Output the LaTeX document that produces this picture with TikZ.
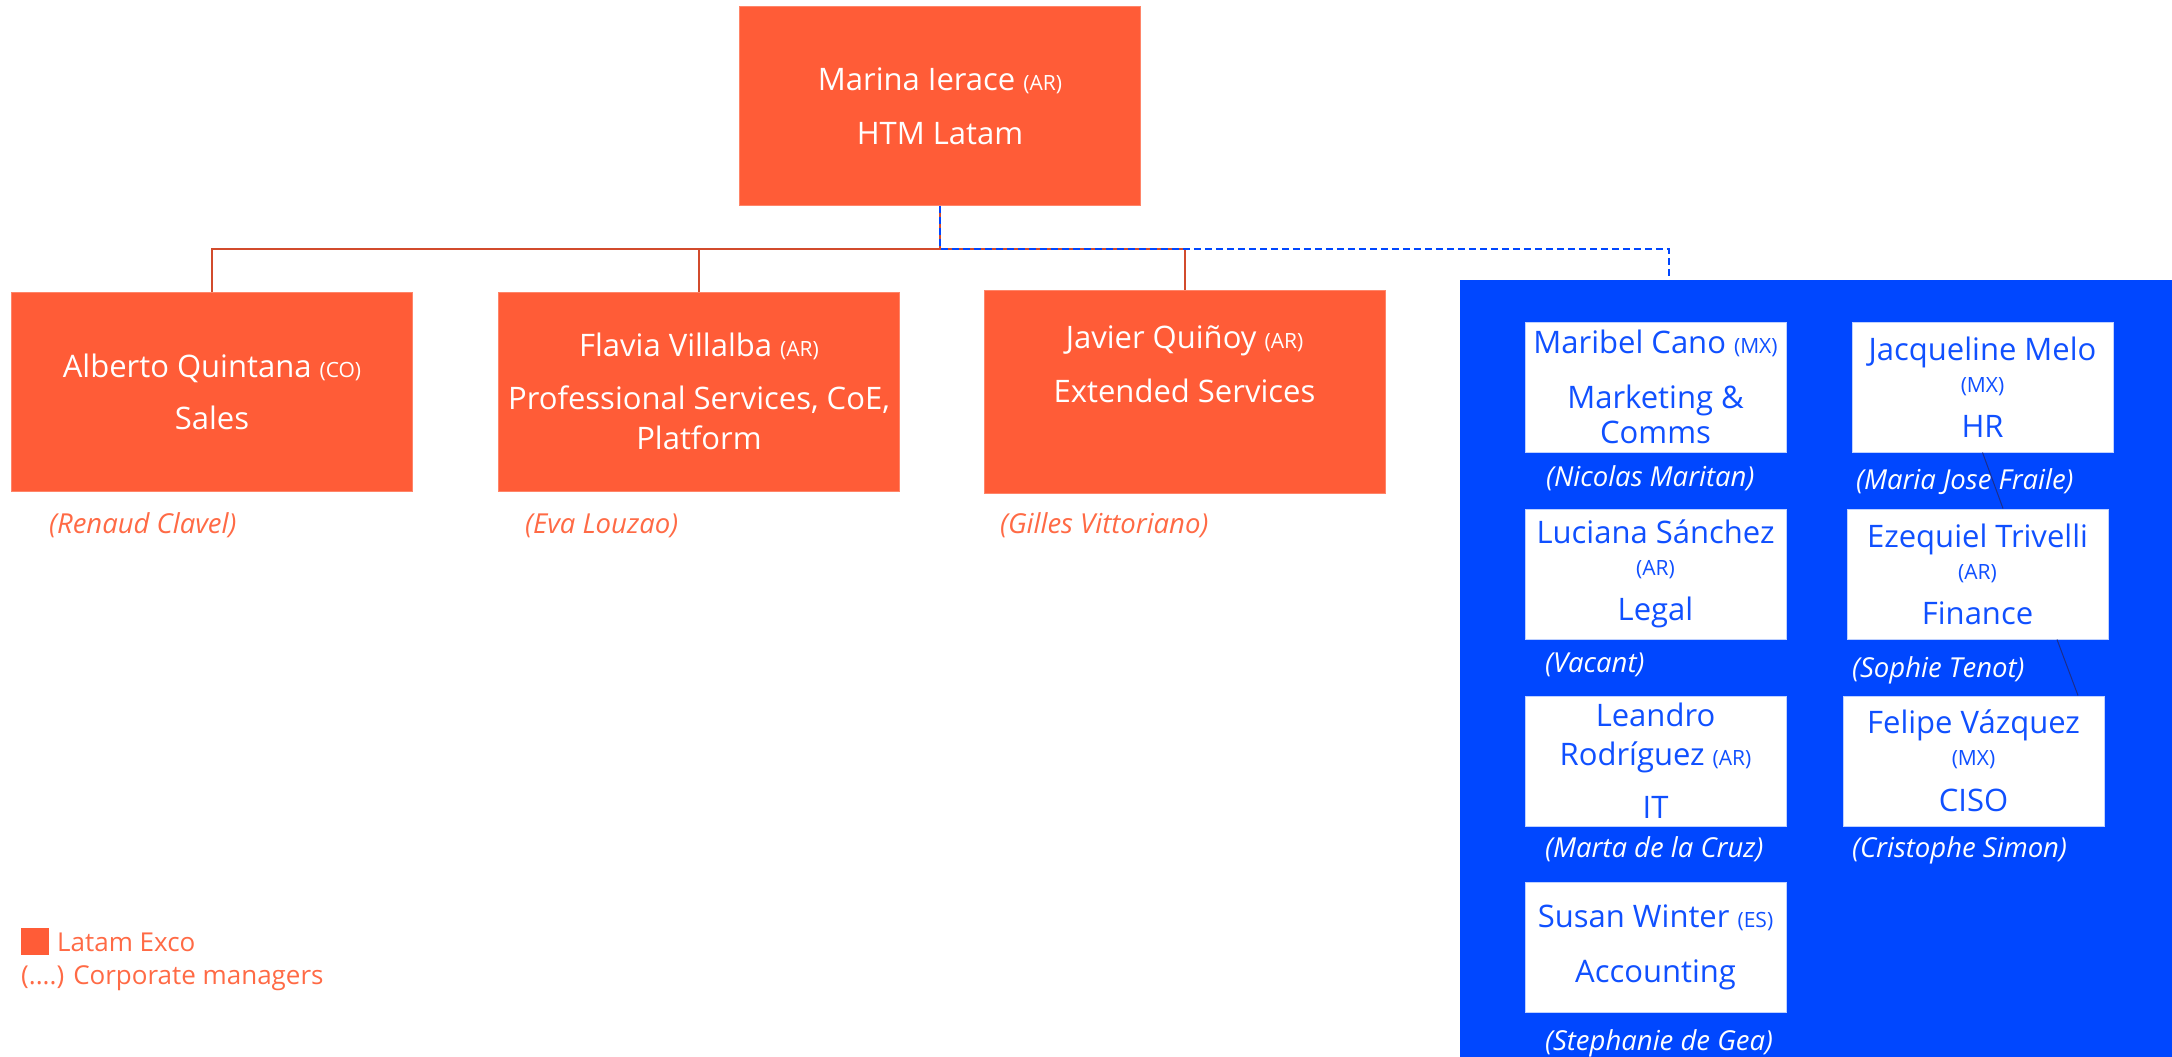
\documentclass[tikz,border=0pt]{standalone}
\usepackage{fontspec}
\setmainfont{Open Sans}
\usetikzlibrary{positioning}
\definecolor{htmorange}{HTML}{FF5C37}
\definecolor{linkorange}{HTML}{D24B2C}
\definecolor{corpblue}{HTML}{0047FF}
\definecolor{boxtext}{HTML}{1050FF}
\definecolor{mgrorange}{HTML}{FF6A45}
\definecolor{navyline}{HTML}{1C2E8C}
\newcommand{\ctry}[1]{{\fontsize{21}{24}\selectfont #1}}

\begin{document}
\begin{tikzpicture}[x=1pt,y=-1pt,
  exco/.style={fill=htmorange,draw=htmorange!75!white,line width=0.8pt,text=white,align=center,
    minimum width=401pt,minimum height=199pt,inner sep=0pt,font=\fontsize{31}{36}\selectfont},
  corp/.style={fill=white,draw=corpblue!25!white,line width=1pt,text=boxtext,align=center,
    minimum width=261pt,minimum height=130pt,inner sep=0pt,font=\fontsize{31}{36}\selectfont},
  mgr/.style={anchor=base west,inner sep=0pt,font=\fontsize{27.5}{32}\selectfont\itshape},
  link/.style={linkorange,line width=2pt},
  dashlink/.style={corpblue,line width=2pt,dash pattern=on 7pt off 4pt},
  key/.style={anchor=base west,inner sep=0pt,text=mgrorange,font=\fontsize{26}{30}\selectfont}]
\useasboundingbox (0,0) rectangle (2172,1057);

% support functions panel
\node[fill=corpblue,anchor=north west,inner sep=0pt,minimum width=712pt,minimum height=777pt] (panel) at (1460,280) {};

% exco
\node[exco] (htm) at (940,106) {Marina Ierace \ctry{(AR)}\\[18pt]HTM Latam};
\node[exco] (sales) at (212,391.5) {Alberto Quintana \ctry{(CO)}\\[16pt]Sales};
\node[exco] (ps) at (699,391.5) {Flavia Villalba \ctry{(AR)}\\[17pt]Professional Services, CoE,\\[4pt]Platform};
\node[exco,minimum height=203pt] (ext) at (1184.5,391.5) {Javier Quiñoy \ctry{(AR)}\\[18pt]Extended Services\\[18pt]\phantom{X}};

\node[mgr,text=mgrorange] (salesmgr) at (49,533) {(Renaud Clavel)};
\node[mgr,text=mgrorange] (psmgr) at (525,533) {(Eva Louzao)};
\node[mgr,text=mgrorange] (extmgr) at (1000,533) {(Gilles Vittoriano)};

% corporate functions
\node[corp] (mkt) at (1655.5,387) {Maribel Cano \ctry{(MX)}\\[19pt]Marketing \&\\[-1pt]Comms};
\node[corp] (hr) at (1982.5,387) {Jacqueline Melo\\[-4pt]\ctry{(MX)}\\[9pt]HR};
\node[corp] (legal) at (1655.5,574) {Luciana Sánchez\\[-4pt]\ctry{(AR)}\\[9pt]Legal};
\node[corp] (fin) at (1977.5,574) {Ezequiel Trivelli\\[-4pt]\ctry{(AR)}\\[9pt]Finance};
\node[corp] (it) at (1655.5,761) {Leandro\\[3pt]Rodríguez \ctry{(AR)}\\[17pt]IT};
\node[corp] (ciso) at (1973.5,761) {Felipe Vázquez\\[-4pt]\ctry{(MX)}\\[10pt]CISO};
\node[corp] (acc) at (1655.5,947.5) {Susan Winter \ctry{(ES)}\\[19pt]Accounting};

\draw[navyline,line width=1pt] (hr.south) -- ([xshift=25.5pt]fin.north);
\draw[navyline,line width=1pt] ([xshift=79.5pt]fin.south) -- ([xshift=104.5pt]ciso.north);

\node[mgr,text=white] (mktmgr) at (1546,486) {(Nicolas Maritan)};
\node[mgr,text=white] (hrmgr) at (1856,489) {(Maria Jose Fraile)};
\node[mgr,text=white] (legalmgr) at (1545,672) {(Vacant)};
\node[mgr,text=white] (finmgr) at (1852,677) {(Sophie Tenot)};
\node[mgr,text=white] (itmgr) at (1545,857) {(Marta de la Cruz)};
\node[mgr,text=white] (cisomgr) at (1852,857) {(Cristophe Simon)};
\node[mgr,text=white] (accmgr) at (1545,1050) {(Stephanie de Gea)};

% connectors
\coordinate (bus) at (940,249);
\coordinate (paneltop) at (1669,280);
\draw[link] (htm.south) -- (bus) -| (sales.north);
\draw[link] (bus) -| (ps.north);
\draw[link] (bus) -| (ext.north);
\draw[dashlink] (htm.south) -- (bus) -| (paneltop);

% legend
\node[fill=htmorange,anchor=north west,inner sep=0pt,minimum width=28pt,minimum height=27pt] (keybox) at (21,928) {};
\node[key] (keyexco) at (57,951) {Latam Exco};
\node[key] (keycorp) at (21,984) {(....) Corporate managers};
\end{tikzpicture}
\end{document}
